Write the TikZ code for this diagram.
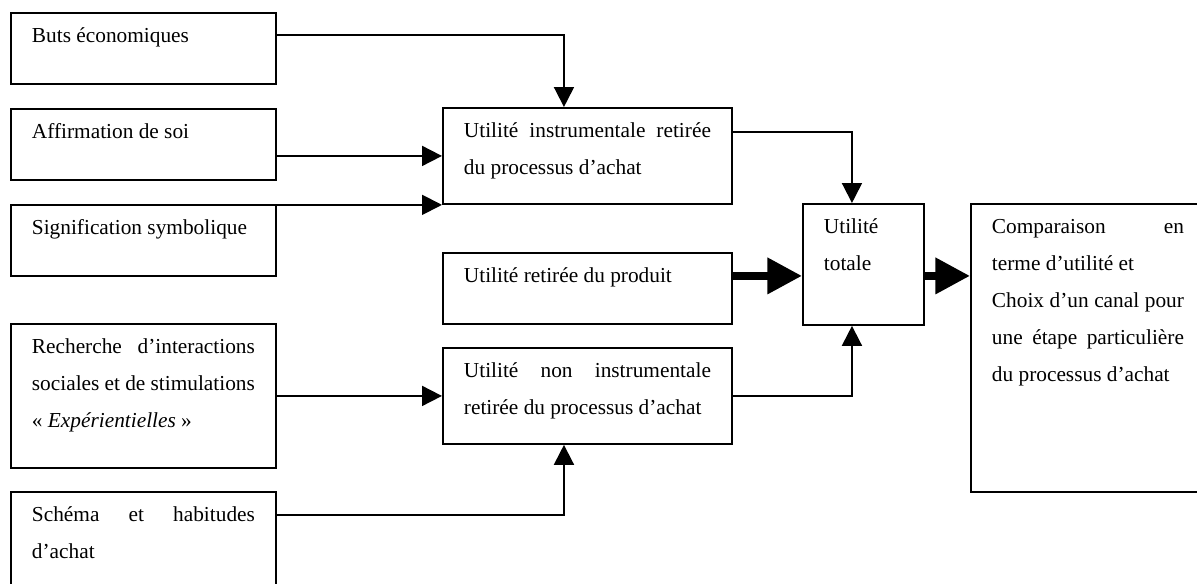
\documentclass[tikz,border=0pt]{standalone}
\usepackage{fontspec}
\setmainfont{Liberation Serif}
\usetikzlibrary{arrows.meta}
\newdimen\pxu
\pxu=0.75pt
\newcommand{\boxtext}[3]{\parbox[c][#2\pxu][t]{#1\pxu}{\rule{0pt}{22.5pt}#3}}
\newcommand{\jline}[1]{\makebox[\linewidth][s]{#1}}

\begin{document}
\begin{tikzpicture}[
        x=0.75pt, y=-0.75pt,
        box/.style={draw, line width=1.4pt, anchor=north west, inner xsep=15.75pt, inner ysep=0pt,
            font=\fontsize{16pt}{27.75pt}\selectfont},
        arr/.style={-{Triangle[length=15pt,width=15pt]}, line width=1.4pt},
        bigarr/.style={-{Triangle[length=26pt,width=26pt]}, line width=6pt}
      ]
      \useasboundingbox (0,0) rectangle (1197,583);
      \clip (0,0) rectangle (1197,583);
      \node[box] (buts) at (10,12) {\boxtext{223}{71}{Buts économiques}};
      \node[box] (affirm) at (10,108) {\boxtext{223}{71}{Affirmation de soi}};
      \node[box] (signif) at (10,204) {\boxtext{223}{71}{Signification symbolique}};
      \node[box] (recherche) at (10,323) {\boxtext{223}{144}{\jline{Recherche d’interactions}\\
            \jline{sociales et de stimulations}\\
            «~\textit{Expérientielles}~»}};
      \node[box] (schema) at (10,491) {\boxtext{223}{100}{\jline{Schéma et habitudes}\\
            d’achat}};
      \node[box] (instr) at (442,107) {\boxtext{247}{96}{\jline{Utilité instrumentale retirée}\\
            du processus d’achat}};
      \node[box] (produit) at (442,252) {\boxtext{247}{71}{Utilité retirée du produit}};
      \node[box] (noninstr) at (442,347) {\boxtext{247}{96}{\jline{Utilité non instrumentale}\\
            retirée du processus d’achat}};
      \node[box] (totale) at (802,203) {\boxtext{79}{121}{Utilité\\
            totale}};
      \node[box] (compar) at (970,203) {\boxtext{192}{288}{\jline{Comparaison en}\\
            terme d’utilité et\\
            \jline{Choix d’un canal pour}\\
            \jline{une étape particulière}\\
            du processus d’achat}};

      \coordinate (t1) at ([yshift=-8.6pt]totale.west);
      \coordinate (t2) at ([yshift=-8.6pt]totale.east);
      \draw[arr] ([yshift=-17.25pt]buts.north east) -| ([xshift=-17.6pt]instr.north);
      \draw[arr] (affirm.east |- instr.west) -- (instr.west);
      \draw[arr] (signif.east |- instr.south west) -- (instr.south west);
      \draw[arr] ([yshift=-18.75pt]instr.north east) -| ([xshift=-8.6pt]totale.north);
      \draw[bigarr] (produit.east |- t1) -- (t1);
      \draw[bigarr] (t2) -- (t2 -| compar.west);
      \draw[arr] (recherche.east) -- (noninstr.west);
      \draw[arr] (noninstr.east) -| ([xshift=-8.6pt]totale.south);
      \draw[arr] ([yshift=-18pt]schema.north east) -| ([xshift=-17.6pt]noninstr.south);
    \end{tikzpicture}
\end{document}
